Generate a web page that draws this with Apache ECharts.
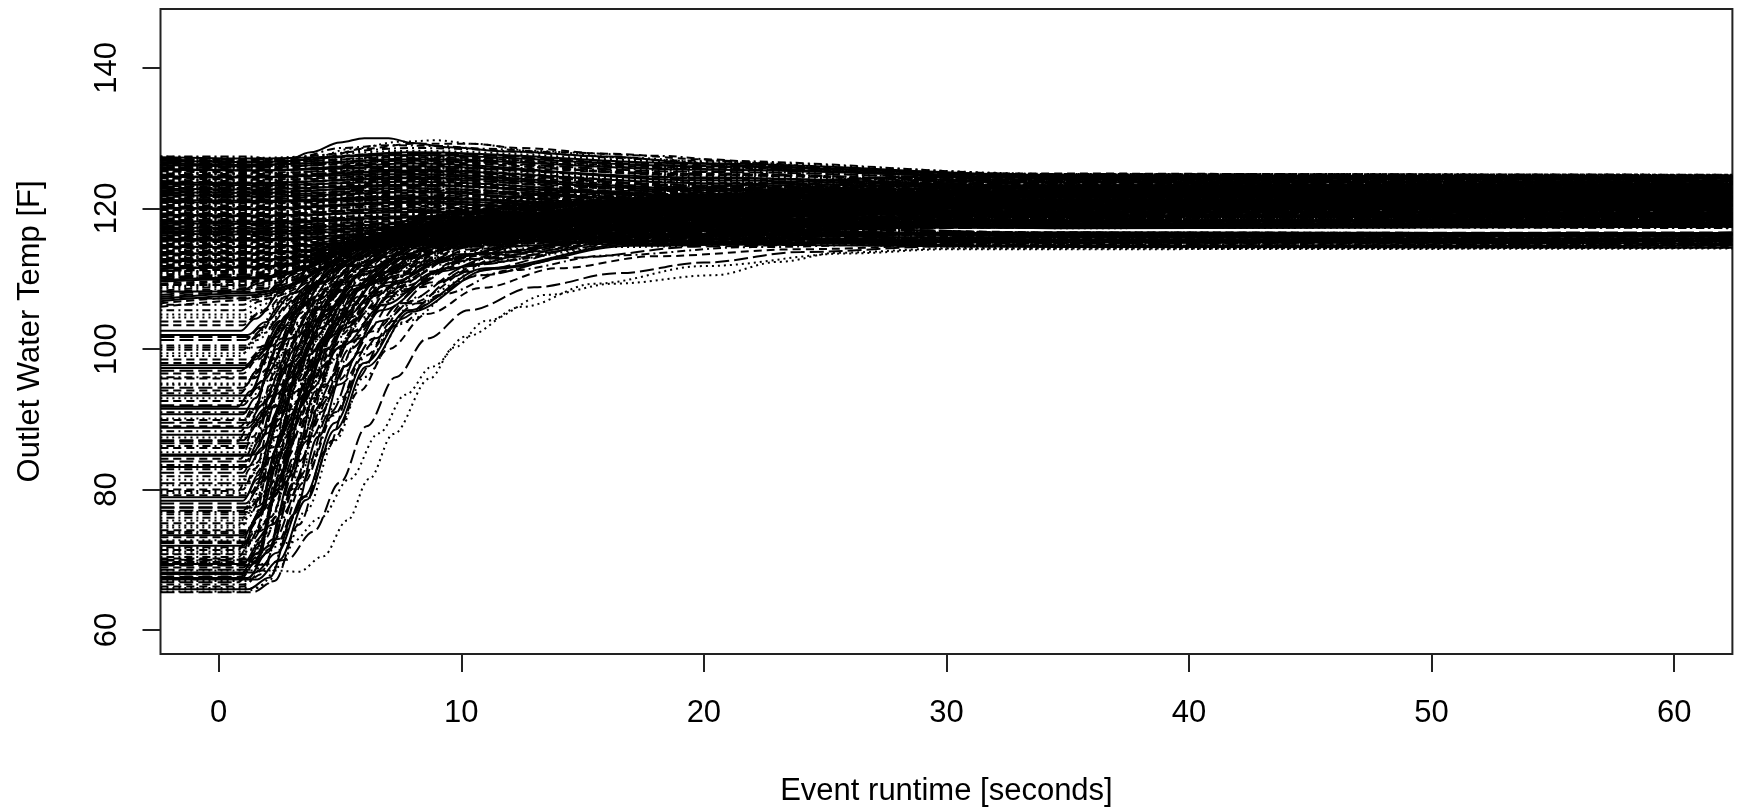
<!DOCTYPE html>
<html><head><meta charset="utf-8">
<script src="https://cdn.jsdelivr.net/npm/echarts@6/dist/echarts.min.js"></script>
<style>html,body{margin:0;padding:0;background:#fff}#c{width:1738px;height:812px}</style>
</head><body><div id="c"></div>
<script>
// ---- data ----
const xTicks = [0, 10, 20, 30, 40, 50, 60];
const yTicks = [60, 80, 100, 120, 140];
const xTitle = 'Event runtime [seconds]';
const yTitle = 'Outlet Water Temp [F]';

// runs that start warm: temperature at these runtimes
const highX = [-2.4, 1.5, 8, 20, 35, 62.4];
const highStarts = [
[127.3,127.1,127.6,126.0,124.7,124.5],[127.1,126.9,127.9,126.3,124.6,124.7],[126.9,126.8,127.2,125.7,124.4,124.2],
[126.7,126.4,127.5,125.9,124.8,124.6],[126.5,126.3,126.8,125.2,124.1,124.3],[126.4,126.2,127.0,125.5,124.3,124.0],
[126.2,126.0,126.5,124.9,123.8,123.9],[126.0,125.9,126.9,124.6,123.5,123.7],[125.8,125.7,126.2,124.8,123.9,123.6],
[125.7,125.5,125.8,124.3,123.2,123.4],[125.5,125.4,126.4,124.0,123.0,122.8],[125.3,125.1,125.5,123.7,122.7,122.9],
[125.1,125.0,125.9,123.9,123.3,123.1],[124.9,124.8,125.2,123.4,122.4,122.6],[124.8,124.6,125.6,123.1,122.1,122.3],
[124.6,124.5,124.9,122.8,121.9,121.7],[124.4,124.3,125.1,123.0,122.5,122.2],[124.2,124.1,124.5,122.5,121.6,121.8],
[124.0,123.9,124.8,122.2,121.3,121.5],[123.9,123.7,124.2,121.9,121.0,121.2],[123.7,123.6,124.4,122.6,121.8,121.6],
[123.5,123.4,123.9,121.6,120.7,120.9],[123.3,123.2,124.0,121.3,120.4,120.6],[123.1,123.0,123.6,121.0,120.2,120.0],
[122.9,122.9,123.2,122.0,121.2,121.4],[122.8,122.7,123.4,120.7,119.9,120.1],[122.6,122.5,122.9,120.4,119.6,119.8],
[122.4,122.3,123.1,121.5,120.8,120.5],[122.2,122.1,122.6,120.1,119.3,119.5],[122.0,121.9,122.8,120.9,120.0,120.3],
[121.9,121.7,122.3,119.8,119.0,119.2],[121.7,121.6,122.5,121.2,120.6,120.8],[121.5,121.4,122.0,119.5,118.7,118.9],
[121.3,121.2,121.8,120.6,119.9,119.7],[121.1,121.0,121.7,119.2,118.4,118.6],[120.9,120.9,121.4,120.3,119.5,119.3],
[120.8,120.7,121.2,118.9,118.1,118.3],[120.6,120.5,121.5,121.0,120.4,120.6],[120.4,120.3,120.9,118.6,117.8,118.0],
[120.2,120.1,120.6,119.9,119.2,119.0],[120.0,119.9,120.8,118.3,117.5,117.7],[119.8,119.8,120.3,119.6,118.9,119.1],
[119.7,119.6,120.1,118.0,117.2,117.4],[119.5,119.4,120.0,119.3,118.6,118.8],[119.3,119.2,119.8,117.7,116.5,116.6],
[119.1,119.0,119.5,119.0,118.2,118.4],[118.9,118.9,119.6,117.4,116.6,116.4],[118.7,118.7,119.2,118.7,117.9,117.7],
[118.6,118.5,119.0,117.1,116.3,116.5],[118.4,118.3,118.9,118.4,117.6,117.8],[118.2,118.1,118.7,116.8,116.0,116.2],
[118.0,117.9,118.5,118.1,117.3,117.5],[117.8,117.8,118.3,116.5,115.7,115.9],[117.6,117.6,118.2,117.8,117.4,117.3],
[117.5,117.4,118.0,116.2,115.4,115.6],[117.3,117.2,117.8,117.5,117.3,117.5],[117.1,117.0,117.6,115.9,115.1,115.3],
[116.9,116.9,117.5,117.2,116.4,116.2],[116.7,116.7,117.3,115.6,114.8,115.0],[116.5,116.5,117.1,116.9,116.1,116.3],
[116.4,116.3,117.0,115.3,114.6,114.7],[116.2,116.1,116.8,116.6,115.8,116.0],[116.0,115.9,116.6,115.0,114.4,114.5],
[115.8,115.8,116.5,116.3,115.5,115.7],[115.6,115.6,116.3,117.5,118.2,118.0],[115.4,115.4,116.1,115.8,115.2,115.4],
[115.3,115.2,116.0,118.0,119.4,119.6],[115.1,115.0,115.8,115.5,114.9,115.1],[114.9,114.9,115.7,118.6,120.5,120.3],
[114.7,114.7,115.5,115.2,114.7,114.8],[114.5,114.5,115.4,119.2,121.3,121.5],[114.3,114.3,115.3,117.0,117.9,118.1],
[114.1,114.1,115.2,119.8,122.2,122.0],[113.9,113.9,115.0,116.7,117.4,117.2],[113.7,113.8,115.0,120.4,123.0,123.2],
[113.5,113.6,114.9,116.4,116.5,116.4],[113.3,113.4,114.9,121.0,123.8,123.6],[113.1,113.2,114.8,116.0,116.3,116.1],
[112.9,113.0,114.8,121.6,124.4,124.2],[112.7,112.8,114.7,115.7,115.9,116.1],[112.5,112.6,114.8,120.2,122.6,122.8],
[112.3,112.4,114.8,115.4,115.6,115.4],[112.1,112.2,114.9,119.6,121.6,121.9],[111.9,112.0,114.9,117.8,118.8,118.6],
[111.7,111.8,115.1,118.9,120.4,120.2],[111.4,111.6,115.2,116.9,117.6,117.8],[111.1,111.3,115.4,118.4,119.2,119.4],
[110.8,111.0,115.6,117.3,117.9,117.7],[110.4,110.7,115.9,119.3,120.3,120.5],[110.0,110.4,116.2,118.7,119.6,119.4],
[109.6,110.0,116.5,120.0,121.0,121.2],[109.1,109.6,116.8,119.1,119.8,120.0],[108.6,109.2,116.2,118.2,118.7,118.5],
[108.0,108.7,117.0,120.6,121.8,121.6],[107.4,108.2,116.6,119.5,120.2,120.4],[106.8,107.7,117.3,121.3,122.5,122.7],
[106.0,107.0,116.9,119.9,120.6,120.8],
[127.4,127.2,128.2,126.6,124.9,124.8],[127.2,127.0,128.6,126.8,124.8,124.6],[127.0,126.7,127.8,126.1,124.5,124.7],
[126.8,126.6,128.0,126.4,124.7,124.4],[126.6,126.5,127.3,125.8,124.2,124.4],[126.3,126.1,127.4,125.3,124.0,123.8],
[126.1,125.9,126.7,125.0,123.6,123.8],[125.9,125.8,127.1,125.6,124.4,124.6],[125.6,125.4,126.0,124.4,123.1,123.3],
[125.4,125.3,126.6,124.7,123.7,123.5],[125.2,125.0,125.7,123.8,122.8,123.0],[125.0,124.9,126.1,124.2,123.4,123.6],
[124.8,124.7,125.3,123.3,122.3,122.1],[124.5,124.4,125.4,123.6,122.9,123.1],[124.3,124.1,124.7,122.7,121.7,121.9],
[124.1,124.0,125.0,123.2,122.6,122.4],[123.8,123.7,124.3,122.3,121.4,121.2],[123.6,123.5,124.6,122.9,122.2,122.4],
[123.4,123.3,123.8,121.8,120.9,121.1],[123.2,123.1,124.1,122.4,121.9,121.7],[123.0,122.9,123.5,121.4,120.5,120.7],
[122.7,122.6,123.6,122.1,121.5,121.3],[122.5,122.4,122.9,120.9,120.1,120.3],[122.3,122.2,123.3,121.7,121.1,120.9],
[122.1,122.0,122.5,120.5,119.7,119.9],[121.8,121.8,122.7,121.4,120.8,120.6],[121.6,121.5,122.1,120.2,119.4,119.6],
[121.4,121.3,122.4,121.1,120.3,120.5],[121.2,121.1,121.6,119.7,118.9,119.1],[121.0,120.9,121.9,120.8,120.1,119.9],
[120.7,120.6,121.1,119.4,118.5,118.7],[120.5,120.4,121.3,120.5,119.8,120.0],[120.3,120.2,120.7,119.0,118.2,118.4],
[120.1,120.0,121.0,120.2,119.5,119.3],[119.9,119.8,120.4,118.7,117.9,118.1],[119.6,119.5,120.5,119.8,119.1,119.3],
[119.4,119.3,119.9,118.3,117.6,117.4],[119.2,119.1,120.1,119.5,118.8,118.6],[119.0,118.9,119.5,117.9,117.2,117.4],
[118.8,118.7,119.7,119.1,118.4,118.6],[118.5,118.4,119.1,117.6,117.4,117.3],[118.3,118.2,119.2,118.8,118.0,118.2],
[118.1,118.0,118.6,117.3,116.5,116.4],[117.9,117.8,118.8,118.5,117.7,117.5],[117.7,117.6,118.2,116.9,116.2,116.4],
[117.4,117.3,118.3,118.2,117.4,117.6],[117.2,117.1,117.7,116.6,115.9,115.7],[117.0,116.9,117.9,117.9,117.4,117.5],
[116.8,116.7,117.4,116.3,115.6,115.8],[116.6,116.5,117.5,117.6,116.4,116.3],[116.3,116.2,116.9,116.0,115.3,115.1],
[116.1,116.0,117.1,117.3,116.5,116.4],[115.9,115.8,116.4,115.7,115.0,115.2],[115.7,115.6,116.7,117.0,116.2,116.0],
[115.5,115.4,116.2,115.4,114.8,114.6],[115.2,115.1,116.4,116.8,116.0,116.2],[115.0,114.9,115.9,115.2,114.6,114.8],
[114.8,114.7,116.0,118.3,119.0,118.8],[114.6,114.5,115.6,114.9,114.5,114.4],[114.4,114.4,115.8,119.0,120.1,120.3],
[114.2,114.2,115.5,117.3,117.8,117.6],[114.0,114.0,115.6,120.0,121.4,121.6],[113.8,113.8,115.3,116.9,117.3,117.5],
[113.6,113.6,115.5,120.7,122.7,122.5],[113.4,113.4,115.1,116.5,116.4,116.5],[113.2,113.2,115.4,121.3,123.4,123.6],
[113.0,113.0,115.0,117.6,118.3,118.5],[112.8,112.9,115.3,121.9,124.0,123.8],[112.6,112.7,114.9,116.2,116.6,116.4],
[112.4,112.5,115.2,120.8,123.2,123.4],[112.2,112.3,115.0,118.1,119.0,118.8],[112.0,112.1,115.2,119.9,122.0,122.2],
[111.8,111.9,115.3,117.5,118.4,118.6],[111.5,111.7,115.5,120.3,121.9,121.7],[111.2,111.4,115.7,118.0,118.9,119.1],
[110.9,111.1,115.8,121.0,122.4,122.2],[110.6,110.9,116.0,117.6,118.2,118.4],[110.2,110.6,116.3,120.6,121.7,121.9],
[109.8,110.2,116.6,118.4,119.0,118.8],[109.3,109.8,116.9,121.5,122.9,123.1],[108.8,109.4,116.4,117.9,118.5,118.7],
[108.3,109.0,117.2,120.9,122.1,121.9],[107.7,108.5,116.8,118.8,119.5,119.3],[107.1,108.0,117.4,122.0,123.3,123.5],
[106.5,107.4,117.0,119.6,120.4,120.6]
];

// runs that start cold: x,y pairs
const risingLines = [
[-2.4,65.5, 1.1,65.5, 2.0,66.6, 3.0,76, 4.0,88, 5.0,98, 6.5,106, 9,112, 14,115.5, 30,117.4, 62.4,117.5],
[-2.4,66.5, 1.0,66.5, 1.8,68, 2.7,78, 3.6,90, 4.6,100, 6,107.5, 9,113, 15,116.5, 30,118.2, 62.4,118],
[-2.4,67.6, 0.9,67.6, 1.6,70, 2.4,80, 3.2,91, 4.2,101, 5.6,108.5, 8.5,114, 15,117.5, 30,119.6, 62.4,119.8],
[-2.4,67.4, 1.2,67.4, 2.0,71, 3.0,82, 4.0,94, 5.2,103, 7,109.5, 10,113.5, 18,116, 30,116.4, 62.4,116.3],
[-2.4,68.9, 1.0,68.9, 1.7,72, 2.5,82, 3.4,93, 4.4,102, 6,109, 9,114.5, 16,118, 30,120.5, 62.4,121],
[-2.4,69.6, 1.1,69.6, 1.8,73, 2.6,83, 3.5,95, 4.6,104, 6.3,110.5, 9.5,115, 17,118.7, 30,121.4, 62.4,121.2],
[-2.4,70.4, 0.8,70.4, 1.5,74, 2.3,84, 3.1,95, 4.0,104, 5.5,111, 8,116, 14,119.5, 30,122.3, 62.4,122.6],
[-2.4,69.2, 1.3,69.2, 2.1,72, 3.1,81, 4.2,92, 5.4,101, 7.2,108, 10.5,112.8, 18,115.3, 30,115.6, 62.4,115.4],
[-2.4,72.0, 1.0,72.0, 1.6,76, 2.4,86, 3.2,96, 4.2,104.5, 5.8,110.5, 8.5,115.5, 15,119, 30,121.8, 62.4,122],
[-2.4,73.2, 1.1,73.2, 1.7,77, 2.5,87, 3.4,97, 4.5,105, 6.2,111, 9,115.8, 16,119.2, 30,120.9, 62.4,120.6],
[-2.4,74.6, 0.9,74.6, 1.5,78, 2.3,88, 3.1,97.5, 4.1,105.5, 5.6,111.5, 8.2,116.5, 14,120.5, 30,123.4, 62.4,123.8],
[-2.4,76.0, 1.2,76.0, 1.8,79, 2.7,88, 3.7,97, 4.9,104.5, 6.7,110, 9.8,114.5, 17,117.5, 30,118.7, 62.4,118.9],
[-2.4,77.0, 1.0,77.0, 1.6,80, 2.4,89, 3.3,98, 4.4,105.5, 6,111, 8.8,115.5, 15,118.5, 30,119.3, 62.4,119.1],
[-2.4,78.9, 1.1,78.9, 1.6,82, 2.4,91, 3.2,99, 4.2,106, 5.8,111.8, 8.5,116.5, 15,120, 30,122.8, 62.4,123],
[-2.4,80.0, 1.0,80.0, 1.5,83, 2.3,92, 3.1,100, 4.1,106.5, 5.6,112, 8.2,116.8, 14,120.5, 30,124.1, 62.4,124.3],
[-2.4,81.4, 1.2,81.4, 1.8,84, 2.8,93, 3.9,101, 5.2,107.5, 7.2,112.5, 10.5,116, 18,118, 30,118.4, 62.4,118.2],
[-2.4,82.9, 0.9,82.9, 1.4,86, 2.2,94, 3.0,101.5, 4.0,107.5, 5.5,112.5, 8,117, 14,120.8, 30,123.1, 62.4,123.3],
[-2.4,84.0, 1.1,84.0, 1.7,87, 2.6,95, 3.6,102, 4.8,108, 6.6,113, 9.6,116.8, 17,119.3, 30,120.2, 62.4,120.4],
[-2.4,84.8, 1.3,84.8, 2.0,88, 3.0,96, 4.2,103, 5.6,108.5, 7.6,112.8, 11,115.8, 19,117.3, 30,117.6, 62.4,117.5],
[-2.4,85.9, 1.0,85.9, 1.5,89, 2.3,96.5, 3.2,103, 4.3,108.5, 5.9,113, 8.6,117.2, 15,120.4, 30,121.7, 62.4,121.5],
[-2.4,87.4, 1.1,87.4, 1.6,90, 2.5,97.5, 3.5,104, 4.7,109.5, 6.5,114, 9.5,117.5, 16,120, 30,120.8, 62.4,121],
[-2.4,88.3, 0.9,88.3, 1.4,91, 2.2,98, 3.1,104.5, 4.2,110, 5.8,114.5, 8.5,118.5, 14,121.6, 30,123.9, 62.4,124.1],
[-2.4,89.5, 1.2,89.5, 1.8,92, 2.8,99, 3.9,105, 5.3,110.2, 7.3,114.2, 10.5,116.7, 18,118.2, 30,118.9, 62.4,119.2],
[-2.4,90.7, 1.0,90.7, 1.5,93, 2.4,100, 3.4,106, 4.6,111, 6.4,115, 9.3,118.3, 16,120.7, 30,122, 62.4,122.3],
[-2.4,92.6, 1.1,92.6, 1.6,95, 2.6,101.5, 3.7,107, 5.0,111.5, 7,115.2, 10,117.8, 17,119.6, 30,120, 62.4,119.7],
[-2.4,93.0, 1.3,93.0, 2.0,95.5, 3.1,102, 4.4,107.5, 6,111.8, 8.3,114.8, 12,116.5, 20,117.2, 30,117.4, 62.4,117.3],
[-2.4,93.7, 0.9,93.7, 1.4,96, 2.3,102, 3.3,107.5, 4.5,112, 6.2,115.8, 9,119, 15,121.7, 30,122.9, 62.4,123.1],
[-2.4,94.5, 1.0,94.5, 1.6,97, 2.6,103, 3.7,108.2, 5.1,112.5, 7.1,116, 10.2,118.5, 17,120.3, 30,120.6, 62.4,120.8],
[-2.4,97.3, 1.1,97.3, 1.6,99, 2.6,104, 3.8,109, 5.3,113, 7.4,116.2, 10.7,118.3, 18,119.3, 30,119.5, 62.4,119.4],
[-2.4,98.0, 1.2,98.0, 1.8,100, 2.9,105, 4.2,109.5, 5.8,113.2, 8,116, 11.5,117.8, 19,118.6, 30,118.8, 62.4,118.6],
[-2.4,99.0, 0.9,99.0, 1.4,101, 2.4,106, 3.6,110.5, 5,114.2, 7,117.3, 10,119.7, 16,121.5, 30,122.5, 62.4,122.7],
[-2.4,99.9, 1.0,99.9, 1.6,102, 2.7,106.8, 4.0,111, 5.6,114.5, 7.8,117.2, 11,119, 18,120.2, 30,120.7, 62.4,121],
[-2.4,101.3, 1.1,101.3, 1.7,103, 2.8,107.5, 4.2,111.5, 5.9,114.8, 8.2,117.4, 11.7,119, 19,119.8, 30,120, 62.4,120.2],
[-2.4,102.0, 1.2,102.0, 1.9,103.8, 3.1,108, 4.6,111.8, 6.5,114.5, 9,116.5, 13,117.6, 21,118, 30,118.1, 62.4,118.3],
[-2.4,103.4, 1.0,103.4, 1.6,105, 2.8,109, 4.2,112.5, 6,115.5, 8.4,118, 12,120, 19,121.3, 30,121.9, 62.4,122],
[-2.4,104.9, 1.1,104.9, 1.8,106.3, 3.0,109.8, 4.5,113, 6.4,115.8, 9,118, 13,119.5, 20,120.3, 30,120.5, 62.4,120.3],
[-2.4,106.3, 1.0,106.3, 1.7,107.5, 3.0,110.8, 4.6,113.8, 6.6,116.3, 9.2,118.3, 13,119.8, 20,120.9, 30,121.3, 62.4,121.6],
[-2.4,107.2, 1.2,107.2, 2.0,108.3, 3.4,111.2, 5.1,114, 7.2,116.2, 10,117.8, 14,118.8, 22,119.2, 30,119.2, 62.4,119],
[-2.4,108.2, 0.9,108.2, 1.6,109.3, 3.0,112, 4.7,114.8, 6.8,117.2, 9.6,119.2, 13.5,120.8, 21,121.8, 30,122.2, 62.4,122.4],
[-2.4,109.1, 1.1,109.1, 1.9,110, 3.4,112.5, 5.2,115, 7.5,117, 10.5,118.4, 15,119.2, 23,119.6, 30,119.7, 62.4,119.8],
[-2.4,110.2, 1.0,110.2, 1.8,111, 3.3,113.5, 5.1,116, 7.4,118.2, 10.4,119.8, 15,121, 23,121.6, 30,121.7, 62.4,121.4],
[-2.4,111.1, 1.2,111.1, 2.0,111.7, 3.6,113.8, 5.6,115.8, 8,117.3, 11,118.1, 16,118.5, 24,118.5, 30,118.4, 62.4,118.2],
[-2.4,70.0, 1.4,70.0, 2.3,73, 3.4,81, 4.6,91, 5.8,99.5, 7.5,106.5, 10.5,112, 16,115.4, 30,116.4, 62.4,116.2],
[-2.4,68.2, 1.5,68.2, 2.4,71, 3.5,79, 4.8,89.5, 6.0,98, 7.8,105.5, 11,111.5, 17,114.9, 30,115.2, 62.4,115.0],
[-2.4,75.2, 1.3,75.2, 2.1,78, 3.2,86, 4.4,95, 5.6,102.5, 7.4,108.8, 10.5,113.4, 17,116.2, 30,117.4, 62.4,117.4],
[-2.4,79.5, 1.2,79.5, 2.0,82, 3.2,90, 4.5,98, 5.9,104.5, 7.9,110, 11,114, 18,116.8, 30,117.9, 62.4,118.1],
[-2.4,83.5, 1.4,83.5, 2.2,86, 3.4,93, 4.8,100, 6.4,106, 8.6,111, 12,114.6, 19,116.6, 30,117.4, 62.4,117.5],
[-2.4,86.6, 1.3,86.6, 2.1,89, 3.3,95.5, 4.7,102, 6.3,107.5, 8.5,112, 12,115.3, 19,117.1, 30,117.7, 62.4,117.9],
[-2.4,91.5, 1.5,91.5, 2.3,93.5, 3.6,99, 5.1,104.5, 6.9,109, 9.3,112.8, 13,115.5, 20,116.4, 30,116.5, 62.4,116.4],
[-2.4,95.8, 1.4,95.8, 2.2,97.5, 3.6,102.5, 5.2,107.5, 7.1,111.5, 9.6,114.6, 13.5,116.5, 21,117.4, 30,117.6, 62.4,117.8],
[-2.4,71.2, 1.2,71.2, 2.0,74, 3.0,83, 4.0,93, 5.0,101, 6.6,108, 9.3,113.6, 15,117.3, 30,119, 62.4,119.3],
[-2.4,73.8, 1.0,73.8, 1.8,77, 2.8,86, 3.8,95.5, 4.9,103.5, 6.5,110, 9.2,115, 15,118.8, 30,121, 62.4,121.3],
[-2.4,78.0, 1.1,78.0, 1.8,81, 2.8,89.5, 3.9,98, 5.1,105, 6.9,111, 9.8,115.4, 16,118.6, 30,120.1, 62.4,120],
[-2.4,88.8, 1.2,88.8, 1.9,91.5, 3.0,98, 4.2,104, 5.6,109, 7.6,113.5, 10.8,117, 17,119.4, 30,120.4, 62.4,120.5],
[-2.4,96.5, 1.0,96.5, 1.6,98.5, 2.7,103.8, 4.0,108.8, 5.5,112.8, 7.6,116.2, 10.8,118.7, 17,120.6, 30,121.2, 62.4,121.1],
[-2.4,66.0, 1.6,66.0, 2.5,69, 3.6,77, 4.8,87, 6.0,96, 7.6,103.8, 10.6,110.5, 16,114.5, 30,115.8, 62.4,115.6],
[-2.4,69.9, 0.9,69.9, 1.5,73.5, 2.3,83, 3.2,94, 4.2,103, 5.8,110.5, 8.5,116, 14,120, 30,123.6, 62.4,123.5],
[-2.4,72.6, 1.3,72.6, 2.1,76, 3.2,85, 4.3,94.5, 5.5,102.5, 7.3,109.3, 10.4,114.2, 17,117.6, 30,118.5, 62.4,118.4],
[-2.4,65.8, 1.2,65.8, 2.1,67.5, 3.1,76.5, 4.1,87.5, 5.2,97.5, 6.7,105.5, 9.4,111.5, 15,115.2, 30,116.3, 62.4,116.5],
[-2.4,66.2, 1.0,66.2, 1.8,68.5, 2.7,77.5, 3.6,88, 4.6,98, 6.1,106, 8.9,112.5, 14,116.3, 30,119.1, 62.4,118.9],
[-2.4,67.0, 1.1,67.0, 1.9,69.5, 2.8,78.5, 3.8,89.5, 4.8,99, 6.3,106.8, 9.1,113, 15,117, 30,120.3, 62.4,120.5],
[-2.4,67.9, 0.9,67.9, 1.6,70.5, 2.4,79.5, 3.3,90, 4.3,99.5, 5.8,107.5, 8.5,113.8, 14,118.2, 30,121.9, 62.4,122.1],
[-2.4,68.6, 1.3,68.6, 2.1,71.5, 3.1,80.5, 4.2,91, 5.4,100, 7.1,107.5, 10.2,112.8, 17,115.9, 30,116.5, 62.4,116.3],
[-2.4,69.4, 1.0,69.4, 1.7,72.5, 2.6,82, 3.5,92.5, 4.5,101.5, 6,109, 8.8,114.6, 15,118.4, 30,120.8, 62.4,121],
[-2.4,70.2, 1.2,70.2, 1.9,73, 2.9,82.5, 3.9,93, 5.0,102, 6.6,109.3, 9.5,114.4, 16,117.7, 30,119.4, 62.4,119.6],
[-2.4,70.9, 0.9,70.9, 1.5,74, 2.3,83.5, 3.2,94, 4.2,103, 5.7,110.3, 8.3,115.6, 14,119.6, 30,122.7, 62.4,122.9],
[-2.4,71.8, 1.1,71.8, 1.8,75, 2.7,84, 3.7,94, 4.8,102.5, 6.4,109.5, 9.2,114.8, 15,118.3, 30,120.2, 62.4,120.4],
[-2.4,72.4, 1.4,72.4, 2.2,75, 3.3,84, 4.5,93.5, 5.8,101.5, 7.6,108.5, 10.8,113.6, 17,116.7, 30,117.8, 62.4,117.6],
[-2.4,73.5, 1.0,73.5, 1.7,76.5, 2.6,85.5, 3.6,95, 4.7,103.5, 6.3,110.3, 9.1,115.3, 15,119, 30,121.5, 62.4,121.7],
[-2.4,74.2, 1.2,74.2, 1.9,77, 2.9,86, 4.0,95.5, 5.2,103.5, 7,110, 10,114.7, 16,117.9, 30,119.8, 62.4,119.6],
[-2.4,75.6, 0.9,75.6, 1.5,78.5, 2.4,87.5, 3.3,96.5, 4.4,104.5, 6,111, 8.7,116, 14,119.8, 30,122.8, 62.4,122.6],
[-2.4,76.5, 1.1,76.5, 1.8,79.5, 2.8,88.5, 3.8,97, 5.0,104.5, 6.8,110.5, 9.8,115, 16,118.2, 30,120, 62.4,120.2],
[-2.4,77.4, 1.3,77.4, 2.0,80, 3.0,88.5, 4.1,97, 5.4,104.5, 7.3,110.4, 10.5,114.6, 17,117.3, 30,118.2, 62.4,118.4],
[-2.4,78.4, 1.0,78.4, 1.6,81.5, 2.5,90, 3.4,98.5, 4.5,105.5, 6.1,111.5, 8.9,116.3, 15,119.9, 30,122.4, 62.4,122.2],
[-2.4,79.2, 1.2,79.2, 1.9,82, 2.9,90.5, 4.0,99, 5.2,105.8, 7,111.3, 10,115.5, 16,118.6, 30,120.4, 62.4,120.6],
[-2.4,80.6, 1.1,80.6, 1.7,83.5, 2.7,92, 3.7,100, 4.9,106.5, 6.7,112, 9.6,116.2, 16,119.4, 30,121.2, 62.4,121.4],
[-2.4,81.9, 1.4,81.9, 2.1,84.5, 3.2,92.5, 4.4,100, 5.8,106.5, 7.8,111.8, 11,115.6, 18,118, 30,118.9, 62.4,118.7],
[-2.4,82.4, 1.0,82.4, 1.5,85.5, 2.4,93.5, 3.4,101, 4.5,107.2, 6.2,112.6, 9,117, 15,120.6, 30,123.5, 62.4,123.7],
[-2.4,83.2, 1.2,83.2, 1.8,86, 2.8,94, 3.9,101.5, 5.2,107.5, 7.1,112.8, 10.2,116.6, 17,119.1, 30,120.1, 62.4,119.9],
[-2.4,84.4, 0.9,84.4, 1.4,87.5, 2.3,95, 3.3,102, 4.4,108, 6,113.2, 8.8,117.6, 15,121.1, 30,123.8, 62.4,124],
[-2.4,85.3, 1.1,85.3, 1.7,88, 2.7,95.5, 3.8,102.5, 5.0,108.3, 6.9,113.2, 9.9,116.9, 16,119.7, 30,121, 62.4,120.8],
[-2.4,86.2, 1.3,86.2, 2.0,89, 3.0,96, 4.2,103, 5.6,108.6, 7.6,113.2, 10.8,116.5, 18,118.6, 30,119.2, 62.4,119],
[-2.4,87.0, 1.0,87.0, 1.6,89.5, 2.5,96.5, 3.5,103.5, 4.7,109.2, 6.4,114, 9.2,117.9, 15,120.9, 30,122.6, 62.4,122.8],
[-2.4,87.8, 1.2,87.8, 1.8,90.5, 2.8,97.5, 3.9,104, 5.2,109.5, 7.1,114.2, 10.1,117.6, 17,120, 30,121.1, 62.4,121.3],
[-2.4,89.0, 0.9,89.0, 1.4,91.5, 2.3,98.5, 3.3,105, 4.4,110.5, 6,115, 8.7,118.8, 14,121.8, 30,124.2, 62.4,124.4],
[-2.4,90.1, 1.1,90.1, 1.7,92.5, 2.7,99.5, 3.8,105.5, 5.1,110.8, 7,115, 10,118, 16,120.2, 30,121.4, 62.4,121.2],
[-2.4,91.0, 1.3,91.0, 2.0,93.5, 3.1,100, 4.3,106, 5.7,111, 7.8,115, 11,117.8, 18,119.5, 30,120.1, 62.4,120.3],
[-2.4,92.0, 1.0,92.0, 1.6,94.5, 2.6,101, 3.7,106.8, 5.0,111.7, 6.9,115.6, 9.8,118.6, 16,121, 30,122.3, 62.4,122.5],
[-2.4,93.4, 1.2,93.4, 1.8,95.5, 2.9,101.5, 4.1,107, 5.5,111.8, 7.5,115.6, 10.6,118.3, 17,120.1, 30,120.9, 62.4,120.7],
[-2.4,94.1, 1.0,94.1, 1.5,96.5, 2.5,102.5, 3.6,108, 4.9,112.5, 6.8,116.4, 9.7,119.3, 16,121.5, 30,123.3, 62.4,123.5],
[-2.4,95.1, 1.1,95.1, 1.7,97.5, 2.8,103, 4.0,108.3, 5.4,112.6, 7.4,116.1, 10.5,118.6, 17,120.3, 30,121.3, 62.4,121.5],
[-2.4,96.0, 1.3,96.0, 2.0,98, 3.2,103.5, 4.5,108.5, 6.1,112.6, 8.3,115.8, 11.6,118, 19,119.3, 30,119.8, 62.4,119.6],
[-2.4,96.9, 0.9,96.9, 1.5,98.5, 2.5,104, 3.7,109, 5.1,113.2, 7.1,116.6, 10.1,119.2, 16,121.2, 30,122.4, 62.4,122.2],
[-2.4,97.7, 1.1,97.7, 1.7,99.5, 2.9,104.5, 4.2,109.3, 5.8,113.2, 8,116.3, 11.3,118.5, 18,120, 30,120.6, 62.4,120.4],
[-2.4,98.5, 1.2,98.5, 1.9,100.5, 3.1,105.3, 4.5,109.8, 6.2,113.5, 8.5,116.3, 12,118.2, 19,119.4, 30,119.7, 62.4,119.9],
[-2.4,99.4, 1.0,99.4, 1.6,101.3, 2.8,106, 4.1,110.5, 5.7,114, 7.9,117, 11.2,119.4, 18,121, 30,121.8, 62.4,122],
[-2.4,100.5, 1.1,100.5, 1.8,102.2, 3.0,106.8, 4.4,111, 6.1,114.5, 8.5,117.2, 12,119.2, 19,120.4, 30,120.8, 62.4,120.6],
[-2.4,101.7, 1.3,101.7, 2.0,103.3, 3.3,107.5, 4.8,111.4, 6.6,114.5, 9.1,116.9, 13,118.5, 20,119.4, 30,119.6, 62.4,119.4],
[-2.4,102.6, 0.9,102.6, 1.5,104.3, 2.7,108.5, 4.1,112.3, 5.8,115.4, 8.1,118, 11.5,120, 18,121.4, 30,122.1, 62.4,122.3],
[-2.4,103.9, 1.1,103.9, 1.8,105.3, 3.1,109.2, 4.6,112.5, 6.4,115.3, 8.9,117.6, 12.6,119.3, 20,120.5, 30,120.9, 62.4,121.1],
[-2.4,104.5, 1.2,104.5, 2.0,105.8, 3.4,109.5, 5.0,112.8, 7.0,115.5, 9.7,117.6, 13.6,119, 21,119.8, 30,120.1, 62.4,119.9],
[-2.4,105.5, 1.0,105.5, 1.7,106.8, 3.0,110.3, 4.6,113.4, 6.5,116.2, 9,118.5, 12.8,120.3, 20,121.6, 30,122.2, 62.4,122],
[-2.4,65.4, 1.4,65.4, 2.3,67, 3.3,75, 4.4,85.5, 5.6,95.5, 7.2,104, 10.2,111, 16,115, 30,115.9, 62.4,115.7],
[-2.4,67.2, 1.6,67.2, 2.5,70, 3.6,78.5, 4.8,88.5, 6.1,97.5, 7.9,105.3, 11.2,111.4, 17,114.7, 30,115.5, 62.4,115.3],
[-2.4,69.7, 1.5,69.7, 2.4,72.5, 3.5,81, 4.7,90.5, 6.0,99, 7.8,106.5, 11,112.3, 17,115.6, 30,116.4, 62.4,116.5],
[-2.4,72.8, 1.6,72.8, 2.5,75.5, 3.7,84, 5.0,93, 6.4,100.8, 8.3,107.5, 11.6,112.7, 18,115.8, 30,116.6, 62.4,116.4],
[-2.4,76.8, 1.5,76.8, 2.4,79.5, 3.6,87.5, 4.9,95.5, 6.3,102.5, 8.3,108.8, 11.6,113.4, 18,116.2, 30,117.3, 62.4,117.4],
[-2.4,80.9, 1.6,80.9, 2.5,83.5, 3.7,90.5, 5.1,97.5, 6.7,104, 8.8,109.5, 12.2,113.8, 19,116.4, 30,117.3, 62.4,117.5],
[-2.4,85.0, 1.5,85.0, 2.4,87.5, 3.7,94, 5.1,100.5, 6.8,106.3, 9,111, 12.5,114.7, 19,117, 30,117.8, 62.4,118],
[-2.4,89.9, 1.6,89.9, 2.5,92, 3.9,98, 5.4,103.8, 7.2,108.8, 9.6,112.8, 13.3,115.6, 20,117.3, 30,117.9, 62.4,117.7],
[-2.4,94.9, 1.5,94.9, 2.4,96.8, 3.9,101.8, 5.5,106.8, 7.4,111, 10,114.4, 13.8,116.7, 21,118, 30,118.3, 62.4,118.5],
[-2.4,100.2, 1.6,100.2, 2.5,101.8, 4.0,105.8, 5.8,109.8, 7.9,113, 10.7,115.4, 14.6,117, 22,117.8, 30,118, 62.4,117.8],
[-2.4,66.8, 0.8,66.8, 1.5,69.5, 2.3,79, 3.1,90, 4.0,100, 5.4,108, 8,114.3, 13,118.6, 30,122.5, 62.4,122.7],
[-2.4,68.0, 0.9,68.0, 1.6,71, 2.4,80.5, 3.3,91.5, 4.3,101, 5.8,108.8, 8.5,114.8, 14,118.9, 30,121.6, 62.4,121.8],
[-2.4,71.4, 0.8,71.4, 1.4,75, 2.2,85, 3.0,95.5, 3.9,104, 5.3,111, 7.9,116.4, 13,120.3, 30,123.7, 62.4,123.9],
[-2.4,74.9, 0.8,74.9, 1.4,78.5, 2.2,88, 3.0,97.5, 4.0,105.5, 5.5,112, 8.1,117, 13,120.7, 30,124, 62.4,123.8],
[-2.4,79.8, 0.8,79.8, 1.3,83, 2.1,92, 2.9,100, 3.9,106.8, 5.4,112.6, 8,117.3, 13,121, 30,124.4, 62.4,124.6],
[-2.4,86.9, 0.8,86.9, 1.3,89.5, 2.1,97, 3.0,103.8, 4.0,109.5, 5.5,114.4, 8.2,118.6, 13,121.9, 30,124.6, 62.4,124.5],
[-2.4,91.8, 0.8,91.8, 1.3,94, 2.2,100.5, 3.2,106.5, 4.4,111.5, 6,115.8, 8.8,119.4, 14,122.3, 30,124.5, 62.4,124.3]
];

// slow-heating runs (lower right of the rising band)
const slowLines = [
[-2.4,68.5, 2.2,68.5, 3.3,68.3, 4.3,70.5, 5.3,75.6, 6.2,81.5, 7.2,87.9, 8.7,95.8, 9.7,100.2, 11,104, 13.5,107.7, 16.3,109.3, 20.4,110.5, 23.1,112.4, 25.5,113.7, 30,114.3, 62.4,114.4],
[-2.4,69.3, 1.8,69.3, 2.8,70, 3.9,74, 5.0,81, 6.1,89, 7.3,96, 8.6,101.5, 10.3,105.5, 13,108.8, 16.5,110.8, 20,112.3, 24,113.8, 30,114.6, 62.4,114.8],
[-2.4,70.8, 1.5,70.8, 2.5,73, 3.6,79, 4.7,87, 5.8,94, 7,100, 8.6,105, 10.8,108.7, 14,111.5, 18,113.2, 24,114.2, 30,114.7, 62.4,114.9],
[-2.4,74.0, 1.6,74.0, 2.6,76.5, 3.7,83, 4.8,91, 6.0,98, 7.4,103.5, 9.2,107.8, 12,111.2, 16,113.3, 22,114.5, 30,115.1, 62.4,115.3],
[-2.4,71.6, 2.0,71.6, 3.0,72.5, 4.2,76, 5.4,81.5, 6.6,88, 7.7,93.5, 8.8,97.5, 10.2,101.8, 12.5,106, 15.5,109.3, 20,111.8, 26,113.6, 30,114.2, 62.4,114.3],
[-2.4,77.5, 1.5,77.5, 2.5,80, 3.7,87, 5.0,95, 6.4,101.5, 8.2,106.5, 10.8,110.5, 14.5,113, 20,114.6, 30,115.4, 62.4,115.6]
];

// runs forming the top edge (overshoot near 5-10 s)
const peakLines = [
[-2.4,126.2, 1.5,126.0, 2.5,126.3, 3.8,128.0, 5.0,129.4, 6.0,130.0, 7.0,130.0, 8.0,129.3, 9.5,128.7, 12,128.1, 16,127.4, 20,126.4, 25,125.3, 30,124.8, 45,124.6, 62.4,124.4],
[-2.4,125.8, 2,125.5, 3.5,126.8, 5.5,128.5, 7.5,129.5, 9,129.7, 10.5,129.2, 13,128.2, 17,127.2, 22,126, 30,124.8, 45,124.9, 62.4,124.7],
[-2.4,127.4, 1.2,127.4, 2.3,126.9, 3.3,127.3, 5,128.6, 7,129, 9,128.9, 11,128.5, 14,128, 18,127.5, 22,126.5, 27,125.2, 30,124.9, 62.4,124.8],
[-2.4,126.9, 1.4,126.9, 2.6,126.4, 4.2,127.2, 6,128.5, 8,129.2, 10.4,129.2, 12.5,128.6, 16,127.8, 20,127, 25,125.6, 30,125, 62.4,124.6]
];

// ---- styles ----
const DASH = {solid:'solid', dashed:[8,5], dotted:[2,4], dotdash:[2,4,8,4], longdash:[14,5]};
const LTY = ['solid','dashed','dotted','dotdash','longdash'];
const slowLty = ['dotted','longdash','dashed','dotdash','dotted','longdash'];
const peakLty = ['solid','dotted','dotdash','dashed'];
const FONT = "'Liberation Sans', Arial, sans-serif";

function pairs(a){ const p=[]; for(let i=0;i<a.length;i+=2) p.push([a[i],a[i+1]]); return p; }
const series = [];
let k = 0;
function add(data, lty){
  series.push({type:'line', data, symbol:'none', smooth:0.35, smoothMonotone:'x', silent:true,
    clip:true, lineStyle:{color:'#000', width:2, type:DASH[lty]}, z:2});
}
highStarts.forEach(r => add(highX.map((x,j)=>[x,r[j]]), LTY[(k++)%5]));
risingLines.forEach(r => add(pairs(r), LTY[(k++)%5]));
slowLines.forEach((r,i) => add(pairs(r), slowLty[i]));
peakLines.forEach((r,i) => add(pairs(r), peakLty[i]));

const chart = echarts.init(document.getElementById('c'), null, {renderer:'canvas'});
chart.setOption({
  animation:false,
  backgroundColor:'#fff',
  grid:{left:160.5, right:5.6, top:8.9, bottom:154.7, show:true, borderColor:'#222', borderWidth:2, backgroundColor:'transparent'},
  xAxis:{type:'value', min:-2.4, max:62.4,
    name:xTitle, nameLocation:'middle', nameGap:122,
    nameTextStyle:{fontFamily:FONT, fontSize:31, color:'#000'},
    axisLine:{show:false, onZero:false}, splitLine:{show:false},
    axisTick:{show:true, length:18, customValues:xTicks, lineStyle:{color:'#222', width:2}},
    axisLabel:{customValues:xTicks, margin:44, fontFamily:FONT, fontSize:31, color:'#000', hideOverlap:false}},
  yAxis:{type:'value', min:56.6, max:148.4,
    name:yTitle, nameLocation:'middle', nameGap:115, nameRotate:90,
    nameTextStyle:{fontFamily:FONT, fontSize:31, color:'#000'},
    axisLine:{show:false, onZero:false}, splitLine:{show:false},
    axisTick:{show:true, length:18, customValues:yTicks, lineStyle:{color:'#222', width:2}},
    axisLabel:{customValues:yTicks, rotate:90, margin:38, fontFamily:FONT, fontSize:31, color:'#000', hideOverlap:false}},
  series
});
</script></body></html>
